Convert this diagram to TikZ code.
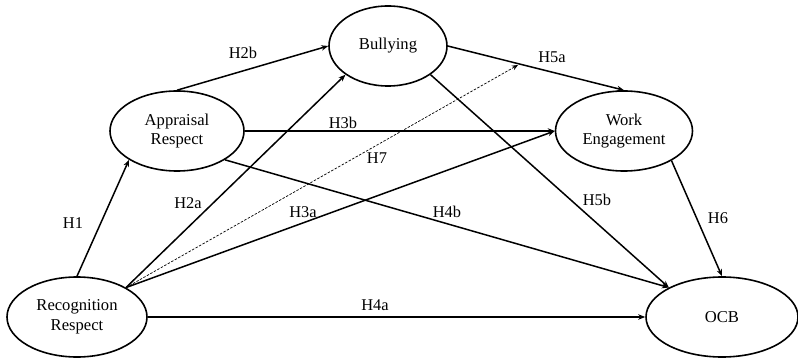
\documentclass[tikz,border=0pt]{standalone}
\usepackage{fontspec}
\setmainfont{Liberation Serif}
\usetikzlibrary{shapes.geometric,arrows.meta}
\begin{document}
\begin{tikzpicture}[x=1pt,y=-1pt,
  lat/.style={ellipse,draw,line width=1.6pt,inner sep=0pt,align=center,font=\fontsize{16.6}{19.5}\selectfont},
  hpath/.style={line width=1.5pt,-{Stealth[length=7pt,width=5.5pt]}},
  dpath/.style={line width=0.7pt,dash pattern=on 2.5pt off 1.5pt,-{Stealth[length=6pt,width=5pt]}},
  hyp/.style={font=\fontsize{16.4}{19}\selectfont,inner sep=0pt},
]
\useasboundingbox (0,0) rectangle (798,358);
% latent variables
\node[lat,minimum width=118pt,minimum height=80pt] (bul) at (388,46) {Bullying};
\node[lat,minimum width=134pt,minimum height=80pt] (app) at (177,131) {Appraisal\\Respect};
\node[lat,minimum width=137pt,minimum height=80pt] (we) at (624,131) {Work\\Engagement};
\node[lat,minimum width=140pt,minimum height=80pt] (rec) at (77,317) {Recognition\\Respect};
\node[lat,minimum width=152pt,minimum height=80pt] (ocb) at (722,317) {OCB};
\coordinate (h7end) at (518,65);
% paths
\draw[hpath] (rec.90) -- (app.211);
\draw[hpath] (app.90) -- (bul.180);
\draw[hpath] (rec.31) -- (bul.214);
\draw[dpath] (rec.31) -- (h7end);
\draw[hpath] (rec.31) -- (we.180);
\draw[hpath] (app.0) -- (we.180);
\draw[hpath] (app.-31) -- (ocb.151);
\draw[hpath] (bul.0) -- (we.90);
\draw[hpath] (bul.-34) -- (ocb.151);
\draw[hpath] (we.-32) -- (ocb.90);
\draw[hpath] (rec.0) -- (ocb.180);
% labels
\node[hyp] (l1) at (73,223) {H1};
\node[hyp] (l2a) at (188,203) {H2a};
\node[hyp] (l2b) at (243,53) {H2b};
\node[hyp] (l3a) at (303,212) {H3a};
\node[hyp] (l3b) at (343,123) {H3b};
\node[hyp] (l4a) at (375,305) {H4a};
\node[hyp] (l4b) at (447,212) {H4b};
\node[hyp] (l5a) at (552,57) {H5a};
\node[hyp] (l5b) at (597,200) {H5b};
\node[hyp] (l6) at (718,218) {H6};
\node[hyp] (l7) at (377,158) {H7};
\end{tikzpicture}
\end{document}
